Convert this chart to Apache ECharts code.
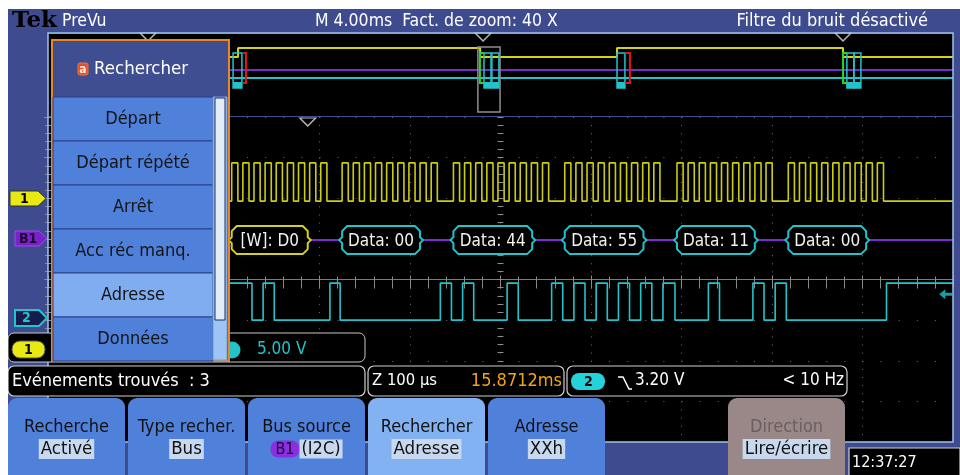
<!DOCTYPE html>
<html>
<head>
<meta charset="utf-8">
<title>PreVu - recherche I2C</title>
<script src="https://cdn.jsdelivr.net/npm/echarts@6/dist/echarts.min.js"></script>
<style>
  html, body { margin: 0; padding: 0; background: #fff; }
  #scope { width: 960px; height: 475px; }
</style>
</head>
<body>
<div id="scope"></div>
<script>
// zoomed window: Z 100 us/div, 10 divisions
const zoomUs = 1000
const divUs = 100

// I2C frames decoded on B1
const packetLabels = ['[W]: D0', 'Data: 00', 'Data: 44', 'Data: 55', 'Data: 11', 'Data: 00']
const packetBytes = [0xD0, 0x00, 0x44, 0x55, 0x11, 0x00]
const byteStartUs = [203, 325, 448, 571, 695, 818]
const packetEndUs = [287, 411, 535, 658, 781, 904]
const bitUs = 12.3        // one SCL period
const sclHighUs = 6.8
const sdaLeadUs = 2.2     // SDA moves just before the SCL rising edge
const traceStartUs = 200

// trace levels (divisions)
const ch1Low = 1.93, ch1High = 2.87
const ch2Low = -1.0, ch2High = -0.09
const busLevel = 0.97
const ch2VoltsDiv = 5.0
const trigLevelV = 3.2

// overview strip, whole record M 4.00ms x 10 div
const ovSpanMs = 40
const ovClockBusyMs = [[7.9, 8.4], [19.1, 25.15], [35.14, 40]]
const ovTraceFromMs = 7.9
const ovPacketMs = [[8.18, 8.57], [19.27, 19.58], [19.62, 19.93], [25.15, 25.5], [35.31, 35.62], [35.62, 35.93]]
const ovStopMs = [[8.62, 8.75], [25.5, 25.72]]
const ovStartMs = [[19.09, 19.27], [35.14, 35.31]]
const ovZoomWindowMs = [[19.0, 19.98]]
const ovSearchMarksMs = [4.42, 19.23, 35.14]
const mainSearchMarksUs = [287]

const menuItems = ['Départ', 'Départ répété', 'Arrêt', 'Acc réc manq.', 'Adresse', 'Données']
const menuSelected = 4
const softKeys = [
  { label: 'Recherche', value: 'Activé' },
  { label: 'Type recher.', value: 'Bus' },
  { label: 'Bus source', value: '(I2C)', badge: 'B1' },
  { label: 'Rechercher', value: 'Adresse', on: true },
  { label: 'Adresse', value: 'XXh' },
  null,
  { label: 'Direction', value: 'Lire/écrire', off: true }
]

const FONT = '"DejaVu Sans Condensed", "Liberation Sans Narrow", "DejaVu Sans", sans-serif'
const YEL = '#cccc12', CYAN = '#22c4cc', PURPLE = '#7c2ad0', BLUE = '#3e4b8e'

// ---- waveforms built from the decoded bytes
function sclPoints() {
  const pts = [[traceStartUs, ch1Low]]
  byteStartUs.forEach(s => {
    for (let i = 0; i < 9; i++) {
      const up = s + i * bitUs, down = up + sclHighUs
      pts.push([up, ch1Low], [up, ch1High], [down, ch1High], [down, ch1Low])
    }
  })
  pts.push([zoomUs, ch1Low])
  return pts
}

function sdaPoints() {
  let level = ch2High
  const pts = [[traceStartUs, level]]
  const set = (t, v) => {
    if (v === level) return
    pts.push([t, level], [t, v])
    level = v
  }
  byteStartUs.forEach((s, k) => {
    const bits = packetBytes[k].toString(2).padStart(8, '0') + '0' // + ACK
    for (let i = 0; i < 9; i++) set(s + i * bitUs - sdaLeadUs, bits[i] === '1' ? ch2High : ch2Low)
    set(s + 9 * bitUs - sdaLeadUs, ch2High) // released after ACK
  })
  pts.push([zoomUs, level])
  return pts
}

function ovClockPoints() {
  const idle = 2.63, busy = 1.76
  const pts = []
  let t = ovTraceFromMs
  ovClockBusyMs.forEach(([a, b]) => {
    if (a > t) pts.push([t, idle], [a, idle])
    pts.push([a, busy], [b, busy])
    if (b < ovSpanMs) pts.push([b, idle])
    t = b
  })
  return pts
}

// ---- custom renderers
function packetShape(params, api) {
  const a = api.coord([api.value(0), busLevel])
  const b = api.coord([api.value(1), busLevel])
  const i = api.value(2)
  const x0 = a[0], x1 = b[0], yc = a[1], t = yc - 14, bt = yc + 14, c = 5
  const pts = [[x0 + c, t], [x1 - c, t], [x1, t + c], [x1, yc - 3], [x1 + 3, yc], [x1, yc + 3], [x1, bt - c],
    [x1 - c, bt], [x0 + c, bt], [x0, bt - c], [x0, yc + 3], [x0 - 3, yc], [x0, yc - 3], [x0, t + c]]
  return {
    type: 'group',
    children: [
      { type: 'polygon', shape: { points: pts }, style: { fill: '#000', stroke: i === 0 ? '#d8d020' : CYAN, lineWidth: 2 } },
      { type: 'text', style: { x: (x0 + x1) / 2, y: yc + 1, text: packetLabels[i], align: 'center', verticalAlign: 'middle',
        fill: '#f2f2f2', fontSize: 17, fontFamily: FONT } }
    ]
  }
}

function ovMark(kind) {
  return function (params, api) {
    const p0 = api.coord([api.value(0), 2.15])
    const p1 = api.coord([api.value(1), -1.27])
    const x0 = p0[0], x1 = p1[0], t = p0[1], b = p1[1]
    if (kind === 'packet') {
      return { type: 'group', children: [
        { type: 'rect', shape: { x: x0, y: t, width: x1 - x0, height: b - t }, style: { fill: 'none', stroke: CYAN, lineWidth: 1.5 } },
        { type: 'rect', shape: { x: x0, y: b - 6, width: x1 - x0, height: 6 }, style: { fill: CYAN } }
      ] }
    }
    if (kind === 'stop') {
      return { type: 'polyline', shape: { points: [[x0, t], [x1, t], [x1, b - 5], [x0, b - 5]] }, style: { fill: 'none', stroke: '#e01818', lineWidth: 2 } }
    }
    if (kind === 'start') {
      return { type: 'polyline', shape: { points: [[x1, t], [x0, t], [x0, b - 5], [x1, b - 5]] }, style: { fill: 'none', stroke: '#28d428', lineWidth: 2 } }
    }
    const z0 = api.coord([api.value(0), 2.73]), z1 = api.coord([api.value(1), -3.61])
    return { type: 'rect', shape: { x: z0[0], y: z0[1], width: z1[0] - z0[0], height: z1[1] - z0[1] },
      style: { fill: 'none', stroke: '#8e8e8e', lineWidth: 1.5 } }
  }
}

// ---- screen furniture
function txt(x, y, text, style, z) {
  return { type: 'text', z: z || 130, style: Object.assign({ x: x, y: y, text: text, fill: '#fff', fontSize: 17,
    fontFamily: FONT, verticalAlign: 'middle' }, style || {}) }
}
function box(x, y, w, h, style, z, r) {
  return { type: 'rect', z: z || 100, shape: { x: x, y: y, width: w, height: h, r: r || 0 }, style: style }
}
function tab(x, y, w, h, style, z) {
  const m = y + h / 2
  return { type: 'polygon', z: z || 100, shape: { points: [[x, y], [x + w - 8, y], [x + w, m], [x + w - 8, y + h], [x, y + h]] }, style: style }
}

const ui = []
// screenshot margin
ui.push(box(0, 0, 960, 9, { fill: '#fff' }, 200))
ui.push(box(0, 0, 8, 475, { fill: '#fff' }, 200))
// display frame
ui.push(box(48, 33, 905, 409, { fill: 'none', stroke: '#9cc2ee', lineWidth: 1.5 }, 60))

// title bar
ui.push(txt(12, 21, 'Tek', { fill: '#000', fontFamily: '"DejaVu Serif", serif', fontWeight: 'bold', fontSize: 23 }))
ui.push(txt(62, 21, 'PreVu', { fontSize: 17.5 }))
ui.push(txt(315, 21, 'M 4.00ms  Fact. de zoom: 40 X', { fontSize: 17.5 }))
ui.push(txt(928, 21, 'Filtre du bruit désactivé', { fontSize: 18, align: 'right' }))

// channel markers on the left edge
ui.push(tab(10, 191, 36, 15, { fill: '#e8e814', stroke: '#333', lineWidth: 1 }))
ui.push(txt(20, 199, '1', { fill: '#000', fontSize: 14, fontWeight: 'bold' }))
ui.push(tab(15, 231, 32, 15, { fill: '#7a22c8', stroke: '#9a4ae8', lineWidth: 1 }))
ui.push(txt(19, 239, 'B1', { fill: '#1b0a38', fontSize: 14, fontWeight: 'bold' }))
ui.push(tab(15, 310, 32, 16, { fill: '#161d4e', stroke: CYAN, lineWidth: 2 }))
ui.push(txt(22, 318, '2', { fill: CYAN, fontSize: 14, fontWeight: 'bold' }))

// status line 1: channel readout
ui.push(box(8, 333, 357, 29, { fill: '#000', stroke: '#c8c8c8', lineWidth: 1 }, 100, 6))
ui.push(box(12, 341, 33, 17, { fill: '#e8e814', stroke: '#555', lineWidth: 1 }, 101, 8))
ui.push(txt(24, 350, '1', { fill: '#000', fontSize: 14, fontWeight: 'bold' }, 102))
ui.push({ type: 'circle', z: 101, shape: { cx: 232, cy: 350, r: 8.5 }, style: { fill: CYAN } })
ui.push(txt(257, 350, '5.00 V', { fill: CYAN }))

// status line 2
ui.push(box(8, 366, 357, 30, { fill: '#000', stroke: '#d0d0d0', lineWidth: 1.2 }, 100, 6))
ui.push(txt(12, 381, 'Evénements trouvés  : 3', { fontSize: 18 }))
ui.push(box(368, 366, 196, 30, { fill: '#000', stroke: '#d0d0d0', lineWidth: 1.2 }, 100, 6))
ui.push(txt(372, 381, 'Z 100 µs', { fontSize: 16.5 }))
ui.push(txt(562, 381, '15.8712ms', { fill: '#f0a418', align: 'right', fontSize: 18 }))
ui.push(box(567, 366, 280, 30, { fill: '#000', stroke: '#d0d0d0', lineWidth: 1.2 }, 100, 6))
ui.push(box(571, 373, 34, 17, { fill: '#24d2da' }, 101, 8))
ui.push(txt(584, 382, '2', { fill: '#000', fontSize: 14, fontWeight: 'bold' }, 102))
ui.push({ type: 'polyline', z: 101, shape: { points: [[618, 377], [623, 377], [629, 389], [632, 389]] }, style: { fill: 'none', stroke: '#fff', lineWidth: 1.5 } })
ui.push(txt(635, 381, '3.20 V'))
ui.push(txt(844, 381, '< 10 Hz', { align: 'right' }))

// soft keys
softKeys.forEach((k, i) => {
  if (!k) return
  const x = 8 + i * 120
  const fill = k.on ? '#82b2f2' : k.off ? '#9a8787' : '#4f80da'
  ui.push(box(x, 398, 117, 80, { fill: fill }, 100, [9, 9, 0, 0]))
  ui.push(txt(x + 58.5, 427, k.label, { fill: k.off ? '#6c5f5f' : '#111', align: 'center', fontSize: 18 }))
  if (k.badge) {
    ui.push(txt(x + 58.5, 449, '{b|' + k.badge + '}{v|' + k.value + '}', {
      align: 'center', fill: '#111',
      rich: {
        b: { fill: '#1b0a38', backgroundColor: '#8a2ee0', borderRadius: 8, padding: [1, 5, 0, 5], fontSize: 16, fontFamily: FONT },
        v: { fill: '#111', backgroundColor: '#c8d8ef', padding: [1, 2, 0, 2], fontSize: 18, fontFamily: FONT }
      }
    }))
  } else {
    ui.push(txt(x + 58.5, 449, k.value, { fill: '#111', align: 'center', fontSize: 18.5, backgroundColor: '#c8d8ef', padding: [1, 2, 0, 2] }))
  }
})

// clock
ui.push(box(849, 448, 111, 28, { fill: '#000', stroke: '#d0d0d0', lineWidth: 1.2 }, 100))
ui.push(txt(852, 463, '12:37:27', { fontSize: 16 }))

// search side menu
ui.push(box(52, 40, 177, 321, { fill: '#3f4d91', stroke: '#e8862c', lineWidth: 2 }, 120))
ui.push(box(78, 63, 10, 12, { fill: '#e0502a', stroke: '#f07838', lineWidth: 1 }, 122, 2))
ui.push(txt(83, 69.5, 'a', { fill: '#fbe6dc', fontSize: 12, fontWeight: 'bold', align: 'center' }, 123))
ui.push(txt(94, 69, 'Rechercher', { fontSize: 18.5 }, 123))
menuItems.forEach((m, i) => {
  const y = 97 + i * 44
  ui.push(box(53, y, 160, 44, { fill: i === menuSelected ? '#80acf0' : '#4f80da', stroke: '#2c3e86', lineWidth: 1 }, 121))
  ui.push(txt(133, y + 22, m, { fill: '#141414', align: 'center', fontSize: 18 }, 123))
})
ui.push(box(213, 97, 14, 263, { fill: '#9cc4f4', stroke: '#6f9ee0', lineWidth: 1 }, 121))
ui.push(box(215, 98, 10, 222, { fill: '#e2edfa', stroke: '#1c2a60', lineWidth: 1 }, 122))

// ---- chart
const chart = echarts.init(document.getElementById('scope'))

const tickStyle = { color: '#8a8a8a', width: 1 }
const hidden = { show: false }

chart.setOption({
  animation: false,
  backgroundColor: BLUE,
  grid: [
    { left: 48, top: 117, width: 905, height: 325, show: true, backgroundColor: '#000', borderWidth: 0, outerBoundsMode: 'none' },
    { left: 48, top: 34, width: 905, height: 82, show: true, backgroundColor: '#000', borderWidth: 0, outerBoundsMode: 'none' }
  ],
  xAxis: [
    { gridIndex: 0, type: 'value', min: 0, max: zoomUs, interval: divUs, position: 'bottom',
      axisLine: hidden, axisLabel: hidden,
      axisTick: { show: true, inside: true, length: 4, lineStyle: tickStyle },
      minorTick: { show: true, splitNumber: 5, length: 3, lineStyle: tickStyle },
      splitLine: { show: true, lineStyle: { color: '#6c6c6c', width: 1, type: [1, 7.125] } } },
    { gridIndex: 0, type: 'value', min: 0, max: zoomUs, interval: divUs, position: 'top',
      axisLine: { show: true, lineStyle: { color: '#7a7a7a' } }, axisLabel: hidden,
      axisTick: { show: true, inside: true, length: 4, lineStyle: tickStyle },
      minorTick: { show: true, splitNumber: 5, length: 3, lineStyle: tickStyle }, splitLine: hidden },
    { gridIndex: 0, type: 'value', min: 0, max: zoomUs, interval: divUs, position: 'bottom', offset: -165.5,
      axisLine: hidden, axisLabel: hidden,
      axisTick: { show: true, inside: false, length: 6, lineStyle: tickStyle },
      minorTick: { show: true, splitNumber: 5, length: 6, lineStyle: tickStyle }, splitLine: hidden },
    { gridIndex: 1, type: 'value', min: 0, max: ovSpanMs, show: false }
  ],
  yAxis: [
    { gridIndex: 0, type: 'value', min: -4, max: 4, interval: 1, position: 'left',
      axisLine: hidden, axisLabel: hidden,
      axisTick: { show: true, inside: true, length: 4, lineStyle: tickStyle },
      minorTick: { show: true, splitNumber: 5, length: 3, lineStyle: tickStyle },
      splitLine: { show: true, lineStyle: { color: '#6c6c6c', width: 1, type: [1, 17.1] } } },
    { gridIndex: 0, type: 'value', min: -4, max: 4, interval: 1, position: 'right',
      axisLine: hidden, axisLabel: hidden,
      axisTick: { show: true, inside: true, length: 4, lineStyle: tickStyle },
      minorTick: { show: true, splitNumber: 5, length: 3, lineStyle: tickStyle }, splitLine: hidden },
    { gridIndex: 0, type: 'value', min: -4, max: 4, interval: 1, position: 'left', offset: -455.5,
      axisLine: hidden, axisLabel: hidden,
      axisTick: { show: true, inside: false, length: 6, lineStyle: tickStyle },
      minorTick: { show: true, splitNumber: 5, length: 6, lineStyle: tickStyle }, splitLine: hidden },
    { gridIndex: 1, type: 'value', min: -4, max: 4, show: false }
  ],
  graphic: { elements: ui },
  series: [
    { name: 'SCL', type: 'line', xAxisIndex: 0, yAxisIndex: 0, data: sclPoints(), showSymbol: false,
      lineStyle: { color: YEL, width: 1.6 }, z: 3 },
    { name: 'SDA', type: 'line', xAxisIndex: 0, yAxisIndex: 0, data: sdaPoints(), showSymbol: false,
      lineStyle: { color: CYAN, width: 1.6 }, z: 3 },
    { name: 'B1', type: 'line', xAxisIndex: 0, yAxisIndex: 0, data: [[traceStartUs, busLevel], [zoomUs, busLevel]],
      showSymbol: false, lineStyle: { color: PURPLE, width: 2 }, z: 3 },
    { name: 'B1 frames', type: 'custom', xAxisIndex: 0, yAxisIndex: 0, renderItem: packetShape, z: 4,
      encode: { x: [0, 1] }, data: packetLabels.map((l, i) => [byteStartUs[i], packetEndUs[i], i]) },
    { name: 'trig', type: 'scatter', xAxisIndex: 0, yAxisIndex: 0, z: 5,
      data: [[992, ch2Low + trigLevelV / ch2VoltsDiv]],
      symbol: 'path://M0,5 L6,0 L6,3.5 L13,3.5 L13,6.5 L6,6.5 L6,10 Z', symbolSize: [13, 10],
      itemStyle: { color: CYAN } },
    { name: 'search', type: 'scatter', xAxisIndex: 0, yAxisIndex: 0, z: 5, clip: false,
      data: mainSearchMarksUs.map(t => [t, 4]), symbol: 'triangle', symbolRotate: 180, symbolSize: [16, 8],
      symbolOffset: [0, 5], itemStyle: { color: '#000', borderColor: '#e4e4e4', borderWidth: 1.3 } },

    // overview
    { name: 'ov CH1', type: 'line', xAxisIndex: 3, yAxisIndex: 3, data: ovClockPoints(), showSymbol: false,
      lineStyle: { color: '#d4d414', width: 2 }, z: 3 },
    { name: 'ov B1', type: 'line', xAxisIndex: 3, yAxisIndex: 3, data: [[ovTraceFromMs, 0.49], [ovSpanMs, 0.49]],
      showSymbol: false, lineStyle: { color: PURPLE, width: 2 }, z: 3 },
    { name: 'ov CH2', type: 'line', xAxisIndex: 3, yAxisIndex: 3, data: [[ovTraceFromMs, -0.29], [ovSpanMs, -0.29]],
      showSymbol: false, lineStyle: { color: CYAN, width: 2 }, z: 3 },
    { name: 'ov zoom', type: 'custom', xAxisIndex: 3, yAxisIndex: 3, renderItem: ovMark('zoom'), z: 4,
      encode: { x: [0, 1] }, data: ovZoomWindowMs },
    { name: 'ov frames', type: 'custom', xAxisIndex: 3, yAxisIndex: 3, renderItem: ovMark('packet'), z: 5,
      encode: { x: [0, 1] }, data: ovPacketMs },
    { name: 'ov stop', type: 'custom', xAxisIndex: 3, yAxisIndex: 3, renderItem: ovMark('stop'), z: 5,
      encode: { x: [0, 1] }, data: ovStopMs },
    { name: 'ov start', type: 'custom', xAxisIndex: 3, yAxisIndex: 3, renderItem: ovMark('start'), z: 5,
      encode: { x: [0, 1] }, data: ovStartMs },
    { name: 'ov search', type: 'scatter', xAxisIndex: 3, yAxisIndex: 3, z: 6, clip: false,
      data: ovSearchMarksMs.map(t => [t, 4]), symbol: 'triangle', symbolRotate: 180, symbolSize: [16, 8],
      symbolOffset: [0, 3], itemStyle: { color: '#000', borderColor: '#e4e4e4', borderWidth: 1.3 } }
  ]
})
</script>
</body>
</html>
